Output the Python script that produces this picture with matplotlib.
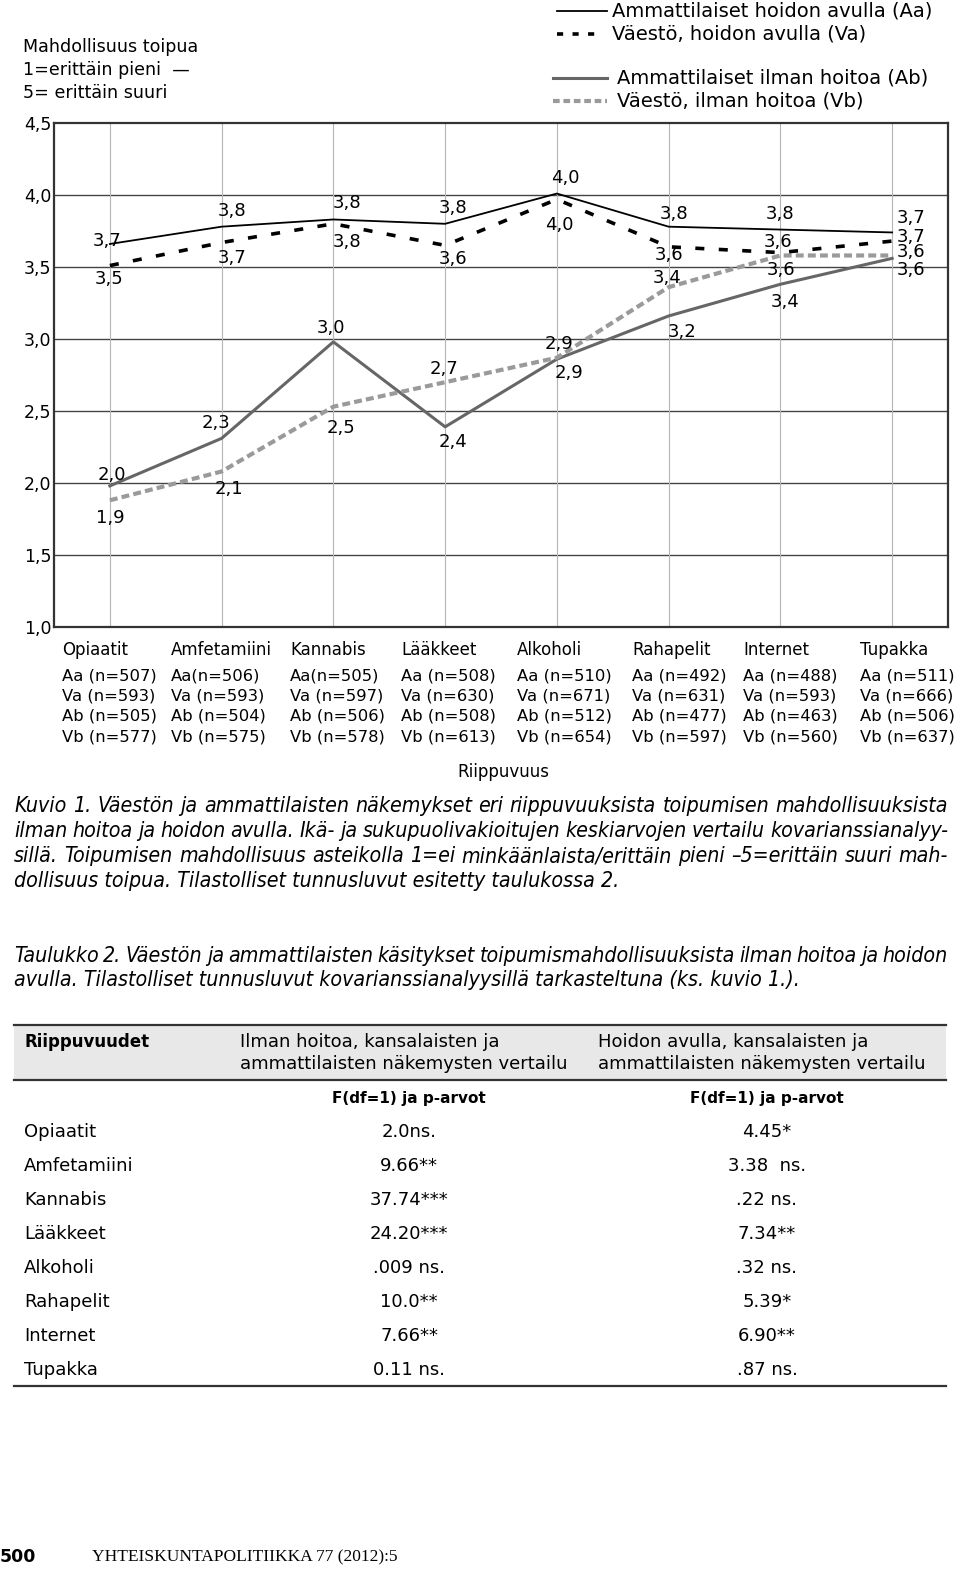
import numpy as np
import matplotlib
matplotlib.use("Agg")
import matplotlib.pyplot as plt
from matplotlib.lines import Line2D

W, H = 960, 1570

# ---- data ----
categories = ["Opiaatit", "Amfetamiini", "Kannabis", "Lääkkeet",
              "Alkoholi", "Rahapelit", "Internet", "Tupakka"]
aa = [3.66, 3.78, 3.83, 3.80, 4.01, 3.78, 3.76, 3.74]   # Ammattilaiset hoidon avulla
va = [3.51, 3.67, 3.80, 3.65, 3.97, 3.64, 3.60, 3.68]   # Väestö, hoidon avulla
ab = [1.98, 2.31, 2.98, 2.39, 2.86, 3.16, 3.38, 3.56]   # Ammattilaiset ilman hoitoa
vb = [1.88, 2.08, 2.53, 2.70, 2.87, 3.36, 3.58, 3.58]   # Väestö, ilman hoitoa
aa_lab = ["3,7", "3,8", "3,8", "3,8", "4,0", "3,8", "3,8", "3,7"]
va_lab = ["3,5", "3,7", "3,8", "3,6", "4,0", "3,6", "3,6", "3,7"]
ab_lab = ["2,0", "2,3", "3,0", "2,4", "2,9", "3,2", "3,4", "3,6"]
vb_lab = ["1,9", "2,1", "2,5", "2,7", "2,9", "3,4", "3,6", "3,6"]
n_aa = ["Aa (n=507)", "Aa(n=506)", "Aa(n=505)", "Aa (n=508)",
        "Aa (n=510)", "Aa (n=492)", "Aa (n=488)", "Aa (n=511)"]
n_va = [593, 593, 597, 630, 671, 631, 593, 666]
n_ab = [505, 504, 506, 508, 512, 477, 463, 506]
n_vb = [577, 575, 578, 613, 654, 597, 560, 637]
yticks = [1.0, 1.5, 2.0, 2.5, 3.0, 3.5, 4.0, 4.5]

table_rows = categories
f_ilman = ["2.0ns.", "9.66**", "37.74***", "24.20***", ".009 ns.", "10.0**", "7.66**", "0.11 ns."]
f_hoidon = ["4.45*", "3.38  ns.", ".22 ns.", "7.34**", ".32 ns.", "5.39*", "6.90**", ".87 ns."]

# label offsets (pixels) from each point
aa_off = [(-3, 3), (10, 16), (14, 16), (8, 16), (8, 16), (5, 13), (0, 16), (19, 14)]
va_off = [(-1, -13), (10, -15), (14, -18), (8, -14), (2, -26), (0, -8), (-2, 11), (19, 4)]
ab_off = [(2, 11), (-6, 15), (-2, 14), (8, -15), (12, -14), (13, -16), (5, -18), (19, -12)]
vb_off = [(0, -18), (7, -18), (8, -21), (-1, 13), (2, 14), (-2, 9), (1, -15), (19, 3)]

plt.rcParams['font.family'] = ['DejaVu Sans']

fig = plt.figure(figsize=(W / 100, H / 100), dpi=100)


def fx(x):
    return x / W


def fy(y):
    return 1 - y / H


ax = fig.add_axes([fx(54), fy(627), (948 - 54) / W, (627 - 123) / H])
x = np.arange(len(categories))
ax.set_xlim(-0.5, 7.5)
ax.set_ylim(1.0, 4.5)
ax.set_xticks(x)
ax.set_xticklabels([])
ax.set_yticks(yticks)
ax.set_yticklabels([f"{t:.1f}".replace(".", ",") for t in yticks], fontsize=12.5)
ax.tick_params(length=0, pad=2)
for t in yticks[1:-1]:
    ax.axhline(t, color="#444444", lw=1.0, zorder=1)
for xi in x:
    ax.axvline(xi, color="#b5b5b5", lw=0.8, zorder=1)
for s in ax.spines.values():
    s.set_linewidth(1.6)
    s.set_color("#333333")

ax.plot(x, aa, color="black", lw=1.3, zorder=4)
ax.plot(x, va, color="black", lw=2.6, dashes=(2.5, 4), zorder=4)
ax.plot(x, ab, color="#666666", lw=2.2, zorder=3)
ax.plot(x, vb, color="#9a9a9a", lw=3.0, dashes=(1.9, 1.0), zorder=3)

for vals, labs, offs in [(aa, aa_lab, aa_off), (va, va_lab, va_off),
                         (ab, ab_lab, ab_off), (vb, vb_lab, vb_off)]:
    for i, (v, lab, off) in enumerate(zip(vals, labs, offs)):
        ax.annotate(lab, (i, v), xytext=off, textcoords="offset pixels",
                    ha="center", va="center", fontsize=13, zorder=5)

# axis title (upper left)
for txt, yy in [("Mahdollisuus toipua", 47), ("1=erittäin pieni  —", 70), ("5= erittäin suuri", 93)]:
    fig.text(fx(23), fy(yy), txt, fontsize=12.6, ha="left", va="center")

# legend
leg = [("Ammattilaiset hoidon avulla (Aa)", 11, dict(color="black", lw=1.3), 557, 607, 612),
       ("Väestö, hoidon avulla (Va)", 34, dict(color="black", lw=2.6, dashes=(1.7, 2.6)), 557, 600, 612),
       ("Ammattilaiset ilman hoitoa (Ab)", 78, dict(color="#666666", lw=2.2), 553, 607, 617),
       ("Väestö, ilman hoitoa (Vb)", 101, dict(color="#9a9a9a", lw=3.0, dashes=(1.6, 0.9)), 553, 607, 617)]
for txt, yy, st, x0, x1, tx in leg:
    fig.add_artist(Line2D([fx(x0), fx(x1)], [fy(yy), fy(yy)], transform=fig.transFigure, **st))
    fig.text(fx(tx), fy(yy), txt, fontsize=14, ha="left", va="center")

# category + n labels below the chart
label_left = [62, 171, 290, 401, 517, 632, 743, 860]
for i, cat in enumerate(categories):
    lx = fx(label_left[i])
    fig.text(lx, fy(650), cat, fontsize=12, ha="left", va="center")
    rows = [n_aa[i], f"Va (n={n_va[i]})", f"Ab (n={n_ab[i]})", f"Vb (n={n_vb[i]})"]
    for r, yy in zip(rows, [676, 696, 716, 737]):
        fig.text(lx, fy(yy), r, fontsize=11.8, ha="left", va="center")
fig.text(fx(503), fy(772), "Riippuvuus", fontsize=12, ha="center", va="center")

renderer = fig.canvas.get_renderer()


def justify(text, x0, x1, yy, **kw):
    words = text.split(" ")
    ts = [fig.text(0, 0, w, ha="left", va="center", **kw) for w in words]
    widths = [t.get_window_extent(renderer).width for t in ts]
    gap = (x1 - x0 - sum(widths)) / max(len(words) - 1, 1)
    xx = x0
    for t, w in zip(ts, widths):
        t.set_position((fx(xx), fy(yy)))
        xx += w + gap


caption = ["Kuvio 1. Väestön ja ammattilaisten näkemykset eri riippuvuuksista toipumisen mahdollisuuksista",
           "ilman hoitoa ja hoidon avulla. Ikä- ja sukupuolivakioitujen keskiarvojen vertailu kovarianssianalyy-",
           "sillä. Toipumisen mahdollisuus asteikolla 1=ei minkäänlaista/erittäin pieni –5=erittäin suuri mah-"]

# fit the caption font so the first line fills the text width
cap_kw = dict(fontsize=12, style="italic", fontstretch="condensed")
probe = fig.text(0, 0, caption[0], **cap_kw)
nat = probe.get_window_extent(renderer).width
probe.remove()
cap_kw["fontsize"] = 12 * (948 - 14) / nat * 0.99

for line, yy in zip(caption, [806, 831, 856]):
    justify(line, 14, 948, yy, **cap_kw)
fig.text(fx(14), fy(881), "dollisuus toipua. Tilastolliset tunnusluvut esitetty taulukossa 2.",
         ha="left", va="center", **cap_kw)

justify("Taulukko 2. Väestön ja ammattilaisten käsitykset toipumismahdollisuuksista ilman hoitoa ja hoidon",
        14, 948, 956, **cap_kw)
fig.text(fx(14), fy(980), "avulla. Tilastolliset tunnusluvut kovarianssianalyysillä tarkasteltuna (ks. kuvio 1.).",
         ha="left", va="center", **cap_kw)

# table
fig.add_artist(plt.Rectangle((fx(14), fy(1080)), (946 - 14) / W, 55 / H, transform=fig.transFigure,
                             facecolor="#e8e8e8", edgecolor="none"))
for yy in [1025, 1080, 1386]:
    fig.add_artist(Line2D([fx(14), fx(946)], [fy(yy), fy(yy)], transform=fig.transFigure,
                          color="#333333", lw=1.6))
fig.text(fx(24), fy(1042), "Riippuvuudet", fontsize=12, fontweight="bold", ha="left", va="center")
for xx, l1 in [(240, "Ilman hoitoa, kansalaisten ja"), (598, "Hoidon avulla, kansalaisten ja")]:
    fig.text(fx(xx), fy(1042), l1, fontsize=13, ha="left", va="center")
    fig.text(fx(xx), fy(1064), "ammattilaisten näkemysten vertailu", fontsize=13, ha="left", va="center")
for xx in [409, 767]:
    fig.text(fx(xx), fy(1098), "F(df=1) ja p-arvot", fontsize=11, fontweight="bold", ha="center", va="center")
for i, (name, a, b) in enumerate(zip(table_rows, f_ilman, f_hoidon)):
    yy = 1132 + 34 * i
    fig.text(fx(24), fy(yy), name, fontsize=13, ha="left", va="center")
    fig.text(fx(409), fy(yy), a, fontsize=13, ha="center", va="center")
    fig.text(fx(767), fy(yy), b, fontsize=13, ha="center", va="center")

# footer
fig.text(fx(0), fy(1557), "500", fontsize=12.5, fontweight="bold", ha="left", va="center")
fig.text(fx(92), fy(1557), "YHTEISKUNTAPOLITIIKKA 77 (2012):5", fontsize=12.5,
         family=["Liberation Serif", "DejaVu Serif"], ha="left", va="center")

fig.savefig("out.png", dpi=100)
